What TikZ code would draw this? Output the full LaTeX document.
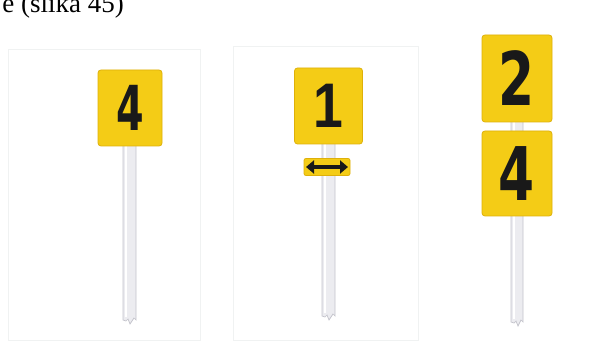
\documentclass[tikz,border=0pt]{standalone}
\usepackage{fontspec}
\usepackage{graphicx}
\setmainfont{Liberation Serif}
\newfontfamily\signfont{DejaVu Sans}
\newfontfamily\onefont{Liberation Sans Bold}
\usetikzlibrary{arrows.meta}
\definecolor{signyellow}{RGB}{244,204,22}
\definecolor{signedge}{RGB}{222,176,10}
\definecolor{polefill}{RGB}{236,236,240}
\definecolor{poleline}{RGB}{196,196,204}
\definecolor{panelline}{RGB}{240,242,242}
\tikzset{
  x=1pt, y=-1pt,
  signbox/.style={draw=signedge, line width=0.8pt, fill=signyellow, rounded corners=3pt,
    inner sep=0pt, font=\signfont\bfseries, text=black!90},
  polebody/.style={draw=poleline, line width=0.7pt, fill=polefill},
  panelbox/.style={draw=panelline, line width=1pt},
}
\newcommand{\pole}[4]{% left, right, top, bottom
  \draw[polebody] (#1,#3) -- (#1,#4) -- ({#1+3},{#4+1}) -- ({#1+5},{#4-1}) -- ({#1+7},{#4+4}) -- ({#2-2},{#4-2}) -- (#2,{#4}) -- (#2,#3) -- cycle;
  \draw[white, line width=1.2pt] ({#1+3},#3) -- ({#1+3},{#4-3});
}
\begin{document}
\begin{tikzpicture}
\useasboundingbox[fill=white] (0,0) rectangle (611,342);
% caption fragment
\node[anchor=base east, inner sep=0pt, font=\fontsize{27}{30}\selectfont] (cap) at (124,13) {e (slika 45)};
% faint panels
\draw[panelbox] (8,50) rectangle (200,340);
\draw[panelbox] (233,47) rectangle (418,340);
% poles
\pole{123}{136}{140}{320}
\pole{322}{335}{140}{316}
\pole{511}{523}{100}{322}
% signs
\node[signbox, minimum width=64pt, minimum height=76pt] (s4) at (130,108)
  {\scalebox{0.64}[1]{\fontsize{62}{62}\selectfont 4}};
\node[signbox, minimum width=68pt, minimum height=76pt] (s1) at (328.5,106)
  {\scalebox{0.85}[1]{\onefont\mdseries\fontsize{63}{63}\selectfont 1}};
\node[signbox, minimum width=46pt, minimum height=17pt, rounded corners=2pt] (plate) at (327,167) {};
\coordinate (pl) at (306,167);
\coordinate (pr) at (348,167);
\draw[black!90, line width=3.5pt, {Triangle[length=8pt,width=13pt]}-{Triangle[length=8pt,width=13pt]}] (pl) -- (pr);
\node[signbox, minimum width=70pt, minimum height=87pt] (s2) at (517,78.5)
  {\scalebox{0.7}[1]{\fontsize{74}{74}\selectfont 2}};
\node[signbox, minimum width=70pt, minimum height=85pt] (s4b) at (517,173.5)
  {\scalebox{0.7}[1]{\fontsize{74}{74}\selectfont 4}};
\end{tikzpicture}
\end{document}
